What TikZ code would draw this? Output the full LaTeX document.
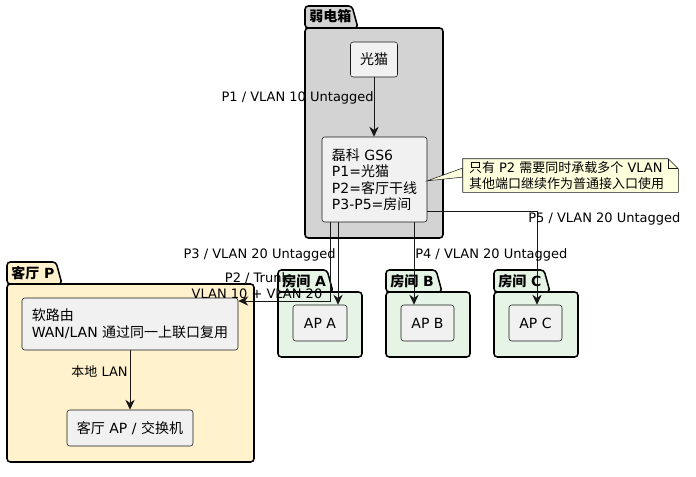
\documentclass[tikz,border=0pt]{standalone}
\usepackage{fontspec}
\setmainfont{DejaVu Sans}
\newfontfamily\cjk{Noto Sans CJK SC}
\usetikzlibrary{arrows.meta}
\newcommand\zh[1]{{\cjk #1}}
\definecolor{ln}{HTML}{181818}
\definecolor{nodefill}{HTML}{F1F1F1}
\definecolor{boxgray}{HTML}{D3D3D3}
\definecolor{cream}{HTML}{FFF2CC}
\definecolor{roomgreen}{HTML}{E6F4E6}
\definecolor{notefill}{HTML}{FEFFDD}
\newcommand\pkgdraw[7]{%
  \draw[pkg,fill=#7] (#1,#4) -- (#1,#2) -- ({#3-6},#2) -- (#3,#4) -- cycle;
  \draw[pkg,fill=#7] (#1,#4) rectangle (#5,#6);}
\begin{document}
\begin{tikzpicture}[x=0.75pt,y=-0.75pt,
  box/.style={draw=ln, line width=0.4pt, fill=nodefill, rounded corners=2pt, inner sep=0pt,
    align=left, font=\fontsize{10.5pt}{12.4pt}\selectfont},
  lbl/.style={inner sep=0pt, font=\fontsize{9.75pt}{11.5pt}\selectfont},
  ttl/.style={inner sep=0pt, anchor=base west, font=\fontsize{10.5pt}{12pt}\selectfont\bfseries},
  arr/.style={draw=ln, line width=0.75pt, -{Stealth[length=7.5pt,width=7pt,inset=2.4pt]}},
  pkg/.style={draw=black, line width=1.15pt, rounded corners=2.5pt},
]
\useasboundingbox[fill=white] (0,0) rectangle (696,476);

% packages
\pkgdraw{305}{6}{358}{28}{443}{238}{boxgray}
\pkgdraw{7}{262}{62}{284}{254}{462}{cream}
\pkgdraw{278}{270}{333}{292}{362}{357}{roomgreen}
\pkgdraw{386}{270}{442}{292}{470}{357}{roomgreen}
\pkgdraw{494}{270}{550}{292}{578}{357}{roomgreen}
\node[ttl] (t1) at (309,21) {\zh{\bfseries 弱电箱}};
\node[ttl] (t2) at (11,278) {\zh{\bfseries 客厅} P};
\node[ttl] (t3) at (282,286) {\zh{\bfseries 房间} A};
\node[ttl] (t4) at (390,286) {\zh{\bfseries 房间} B};
\node[ttl] (t5) at (498,286) {\zh{\bfseries 房间} C};

% nodes
\node[box, minimum width=47*0.75pt, minimum height=35*0.75pt] (gm) at (374,59.5) {\zh{光猫}};
\node[box, minimum width=105*0.75pt, minimum height=85*0.75pt, font=\fontsize{10.5pt}{12.4pt}\selectfont] (gs6) at (374.5,179.5)
  {\zh{磊科} GS6\\P1=\zh{光猫}\\P2=\zh{客厅干线}\\P3-P5=\zh{房间}};
\node[box, minimum width=216*0.75pt, minimum height=52*0.75pt, font=\fontsize{10.5pt}{12.8pt}\selectfont] (rr) at (130,324)
  {\zh{软路由}\\WAN/LAN \zh{通过同一上联口复用}};
\node[box, minimum width=126*0.75pt, minimum height=36*0.75pt] (lap) at (130,428) {\zh{客厅} AP / \zh{交换机}};
\node[box, minimum width=54*0.75pt, minimum height=36*0.75pt] (apa) at (320,323) {AP A};
\node[box, minimum width=53*0.75pt, minimum height=36*0.75pt] (apb) at (427.5,323) {AP B};
\node[box, minimum width=53*0.75pt, minimum height=36*0.75pt] (apc) at (535.5,323) {AP C};

% note
\node[inner sep=0pt, minimum width=215*0.75pt, minimum height=33*0.75pt] (note) at (570.5,175.5) {};
\draw[draw=ln, line width=0.4pt, fill=notefill] ([yshift=-1pt]gs6.east) -- ([yshift=5.6pt]note.west) -- ([yshift=-1.2pt]note.west) -- cycle;
\draw[draw=ln, line width=0.4pt, fill=notefill] (note.north west) -- ([xshift=-7.5pt]note.north east)
  -- ([yshift=-7.5pt]note.north east) -- (note.south east) -- (note.south west) -- cycle;
\draw[draw=ln, line width=0.4pt] ([xshift=-7.5pt]note.north east) -- ([xshift=-7.5pt,yshift=-7.5pt]note.north east) -- ([yshift=-7.5pt]note.north east);
\node[inner sep=0pt, align=left, anchor=west, font=\fontsize{9.75pt}{11.8pt}\selectfont] (notetext) at ([xshift=4.5pt]note.west)
  {\zh{只有} P2 \zh{需要同时承载多个} VLAN\\\zh{其他端口继续作为普通接入口使用}};

% connectors
\coordinate (p2) at (330,301);
\coordinate (p3) at (338,0);
\coordinate (p4) at (414,0);
\coordinate (p5) at (537,211);
\draw[arr] (gm.south) -- (gm.south |- gs6.north);
\draw[arr] (gs6.south -| p2) |- (rr.east |- p2);
\draw[arr] (gs6.south -| p3) -- (apa.north -| p3);
\draw[arr] (gs6.south -| p4) -- (apb.north -| p4);
\draw[arr] (gs6.east |- p5) -| (apc.north -| p5);
\draw[arr] (rr) -- (lap);

% labels
\node[lbl, anchor=east] (l1) at (374,98) {P1 / VLAN 10 Untagged};
\node[lbl, align=center] (l2) at (257,285.5) {P2 / Trunk\\VLAN 10 + VLAN 20};
\node[lbl, anchor=east] (l3) at (336,255) {P3 / VLAN 20 Untagged};
\node[lbl, anchor=west] (l4) at (415,255) {P4 / VLAN 20 Untagged};
\node[lbl, anchor=west] (l5) at (528,219) {P5 / VLAN 20 Untagged};
\node[lbl, anchor=east] (l6) at (128,372) {\zh{本地} LAN};
\end{tikzpicture}
\end{document}
